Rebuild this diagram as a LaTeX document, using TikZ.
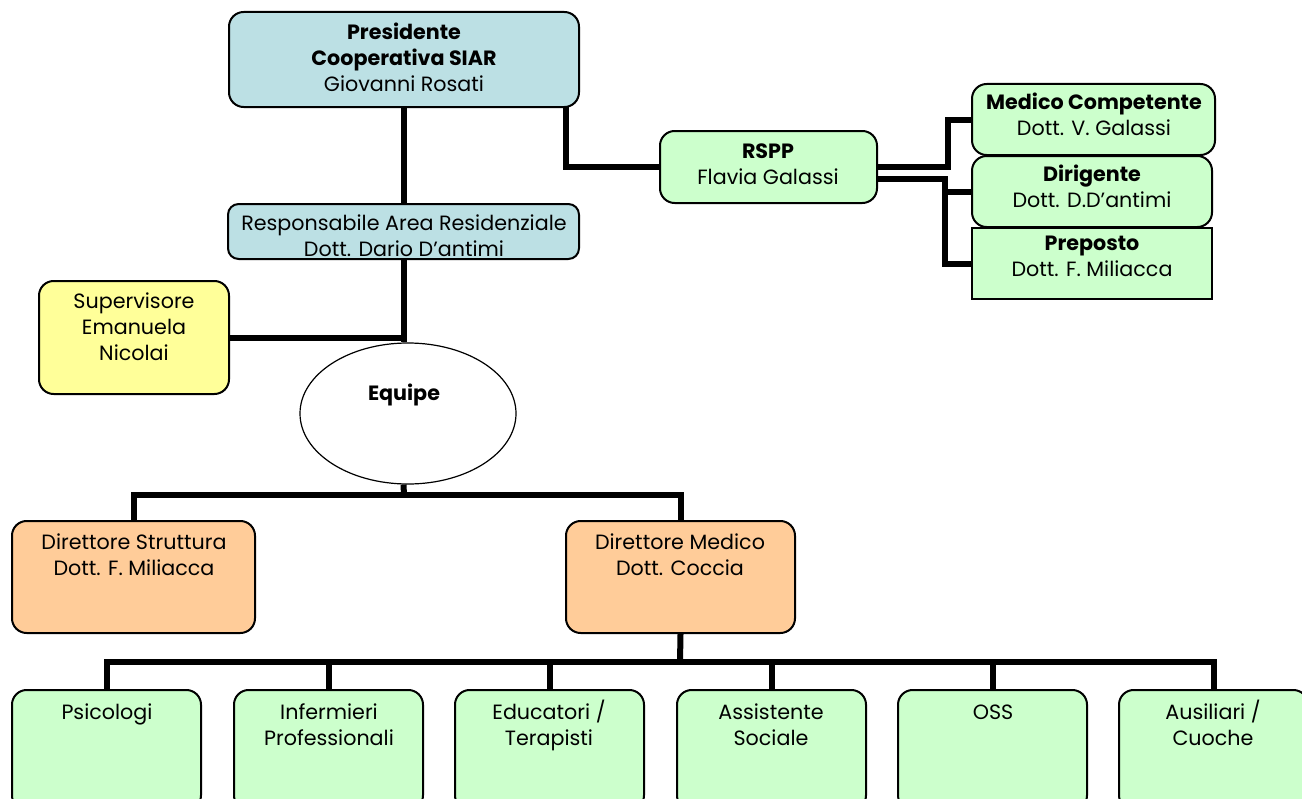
\documentclass[tikz,border=0pt]{standalone}
\usepackage{fontspec}
\setmainfont{Poppins}
\usetikzlibrary{shapes.geometric}
\definecolor{cblue}{RGB}{188,224,228}
\definecolor{cyel}{RGB}{255,255,153}
\definecolor{corg}{RGB}{255,204,153}
\definecolor{cgrn}{RGB}{204,255,204}
\newcommand\mlines[1]{\begin{tabular}[t]{@{}c@{}}#1\end{tabular}}
\begin{document}
\begin{tikzpicture}[x=0.75pt,y=-0.75pt,
  box/.style={draw=black,line width=1.5pt,rounded corners=11pt,inner sep=0pt},
  sqbox/.style={draw=black,line width=1.5pt,inner sep=0pt},
  txt/.style={inner sep=0pt,anchor=base,font=\fontsize{15.5}{19.5}\selectfont},
  link/.style={line width=4.5pt}]
\useasboundingbox (0,0) rectangle (1302,799);
% boxes
\node[box,fill=cblue,minimum width=262.5pt,minimum height=71.25pt] (pres) at (404,59.5) {};
\node[box,fill=cblue,minimum width=263.25pt,minimum height=41.25pt,rounded corners=8pt] (resp) at (403.5,231.5) {};
\node[box,fill=cyel,minimum width=142.5pt,minimum height=84.75pt] (sup) at (134,337.5) {};
\node[ellipse,draw=black,line width=0.9pt,fill=white,minimum width=162pt,minimum height=105.75pt,inner sep=0pt] (equipe) at (408,413.5) {};
\node[box,fill=corg,minimum width=182.25pt,minimum height=84pt] (dstr) at (133.5,577) {};
\node[box,fill=corg,minimum width=171.75pt,minimum height=84pt] (dmed) at (680.5,577) {};
\node[box,fill=cgrn,minimum width=162.75pt,minimum height=54pt] (rspp) at (768.5,167) {};
\node[box,fill=cgrn,minimum width=182.25pt,minimum height=53.25pt] (medico) at (1093.5,119.5) {};
\node[box,fill=cgrn,minimum width=180pt,minimum height=53.25pt] (dirig) at (1092,191.5) {};
\node[sqbox,fill=cgrn,minimum width=180pt,minimum height=53.25pt] (prep) at (1092,263.5) {};
\foreach \n/\cx in {b1/106.5,b2/328.5,b3/549.5,b4/771.5,b5/992.5,b6/1213.5}
  \node[box,fill=cgrn,minimum width=141.75pt,minimum height=90pt] (\n) at (\cx,750) {};
% junctions
\coordinate (p1) at (566,107);
\coordinate (eb) at (404,495);
\coordinate (bus) at (680,662);
\coordinate (j1) at (948,167);
\coordinate (j2) at (945,179);
% connectors
\draw[link] (pres.south -| resp.south) -- (resp.north -| resp.south);
\draw[link] (resp.south) -- (resp.south |- equipe.north);
\draw[link] (sup.east) -- (resp.south |- sup.east);
\draw[link] (resp.south |- equipe.south) -- (eb);
\draw[link] (dstr.north) |- (eb);
\draw[link] (dmed.north) |- (eb);
\draw[link] (dmed.south) -- (bus);
\foreach \n in {b1,b2,b3,b4,b5,b6} \draw[link] (\n.north) |- (bus);
\draw[link] (p1) |- (rspp.west);
\draw[link] (rspp.east) -- (j1) |- (medico.west);
\draw[link] (rspp.east |- j2) -- (j2) |- (dirig.west);
\draw[link] (j2) |- (prep.west);
% texts
\node[txt] at (404,40) {\mlines{\textbf{Presidente}\\\textbf{Cooperativa SIAR}\\Giovanni Rosati}};
\node[txt] at (404,230) {\mlines{Responsabile Area Residenziale\\Dott. Dario D’antimi}};
\node[txt] at (134,308) {\mlines{Supervisore\\Emanuela\\Nicolai}};
\node[txt] at (404,400) {\textbf{Equipe}};
\node[txt] at (134,549) {\mlines{Direttore Struttura\\Dott. F. Miliacca}};
\node[txt] at (680,549) {\mlines{Direttore Medico\\Dott. Coccia}};
\node[txt] at (768,158) {\mlines{\textbf{RSPP}\\Flavia Galassi}};
\node[txt] at (1094,109) {\mlines{\textbf{Medico Competente}\\Dott. V. Galassi}};
\node[txt] at (1092,181) {\mlines{\textbf{Dirigente}\\Dott. D.D’antimi}};
\node[txt] at (1092,250) {\mlines{\textbf{Preposto}\\Dott. F. Miliacca}};
\node[txt] at (107,719) {Psicologi};
\node[txt] at (329,719) {\mlines{Infermieri\\Professionali}};
\node[txt] at (549,719) {\mlines{Educatori /\\Terapisti}};
\node[txt] at (771,719) {\mlines{Assistente\\Sociale}};
\node[txt] at (993,719) {OSS};
\node[txt] at (1213,719) {\mlines{Ausiliari /\\Cuoche}};
\end{tikzpicture}
\end{document}
